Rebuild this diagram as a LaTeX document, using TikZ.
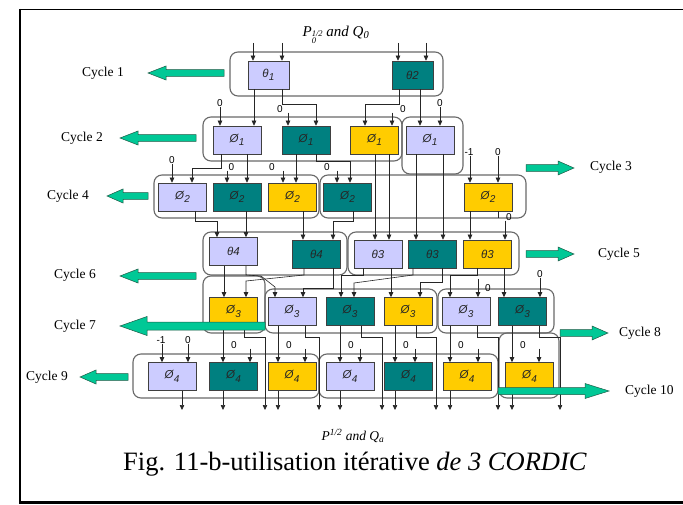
\documentclass[tikz,border=0pt]{standalone}
\usepackage{fontspec}
\setmainfont{Liberation Serif}
\setsansfont{Liberation Sans}
\usetikzlibrary{arrows.meta}

\definecolor{lav}{RGB}{204,204,255}
\definecolor{tealc}{RGB}{0,128,128}
\definecolor{yelc}{RGB}{255,204,0}
\definecolor{cycgreen}{RGB}{0,200,150}
\definecolor{cycedge}{RGB}{30,90,70}
\definecolor{grpline}{RGB}{105,105,105}

\newcommand\boxfont{\sffamily\itshape\fontsize{11.5}{11.5}\selectfont}
\newcommand\lblfont{\sffamily\fontsize{10}{10}\selectfont}
\newcommand\cycfont{\rmfamily\fontsize{13.5}{13.5}\selectfont}
\newcommand\phis[1]{Ø\kern0.3pt\raisebox{-0.55ex}{\fontsize{10}{10}\selectfont#1}}
\newcommand\thetas[1]{θ\kern0.3pt\raisebox{-0.55ex}{\fontsize{10}{10}\selectfont#1}}
% exponent 1/2 stacked over index 0
\newcommand\supsub[2]{\raisebox{-0.55ex}{\fontsize{8.5}{9}\selectfont
  \begin{tabular}{@{}l@{}}#1\\[-1.5pt]#2\end{tabular}}}

% straight vertical wire at abscissa #1 from the bottom of #2 to the top of #3
\newcommand\vwire[3]{\draw[arr] (#1,0 |- #2.south) -- (#1,0 |- #3.north);}
% block arrow: tail x, tip x, y, half shaft, head length, half head
\newcommand\cyclearrow[6]{%
  \pgfmathsetmacro\cah{ifthenelse(#1<#2,#2-#5,#2+#5)}%
  \filldraw[fill=cycgreen, draw=cycedge, line width=0.5pt, line join=miter]
    (#1,#3-#4) -- (\cah,#3-#4) -- (\cah,#3-#6) -- (#2,#3) -- (\cah,#3+#6)
    -- (\cah,#3+#4) -- (#1,#3+#4) -- cycle;}

\tikzset{
  x=1pt, y=-1pt,
  cell/.style={draw=black!75, line width=0.6pt, minimum width=48pt,
    minimum height=28pt, inner sep=0pt, font=\boxfont, text=black!85},
  lav/.style={cell, fill=lav},
  tea/.style={cell, fill=tealc},
  yel/.style={cell, fill=yelc},
  grp/.style={draw=grpline, line width=1.1pt, rounded corners=8pt},
  wire/.style={line width=0.6pt, draw=black!85},
  arr/.style={wire, -{Triangle[length=5pt,width=4.5pt]}},
  lbl/.style={font=\lblfont, inner sep=0pt},
  cyc/.style={font=\cycfont, inner sep=0pt, anchor=west},
}

\begin{document}
\begin{tikzpicture}
\useasboundingbox (0,0) rectangle (683,505);
\fill[white] (0,0) rectangle (683,505);

% frame
\draw[line width=1pt] (19,9.5) -- (683,9.5);
\draw[line width=2.5pt, line join=miter] (20,9) -- (20,502.5) -- (683,502.5);

% grouping outlines
\draw[grp] (230,52) rectangle (443,96);
\draw[grp] (203,117) rectangle (402,161);
\draw[grp] (402,117) rectangle (463,174);
\draw[grp] (154,175) rectangle (319,218);
\draw[grp] (320,175) rectangle (526,218);
\draw[grp] (203,232) rectangle (347,275);
\draw[grp] (348,232) rectangle (519,275);
\draw[grp] (203,276) rectangle (265,333);
\draw[grp] (265,289) rectangle (437,333);
\draw[grp] (438,289) rectangle (554,333);
\draw[grp] (133,354) rectangle (319,398);
\draw[grp] (319,354) rectangle (498,398);
\draw[grp] (499,333) rectangle (559,398);

% titles
\node[font=\rmfamily\itshape\fontsize{15}{15}\selectfont] (tin) at (336,36)
  {P\supsub{1/2}{0} and Q\textsubscript{0}};
\node[font=\rmfamily\itshape\fontsize{13.5}{13.5}\selectfont] (tout) at (353,436)
  {P\textsuperscript{1/2} and Q\textsubscript{a}};
\node[font=\rmfamily\fontsize{26.5}{26.5}\selectfont] (cap) at (355,464)
  {Fig. 11-b-utilisation itérative \textit{de 3 CORDIC}};

% row 1
\node[lav, minimum width=41pt] (t1) at (268.5,75) {\thetas{1}};
\node[tea, minimum width=41pt] (t2) at (412.5,75) {θ2};
% row 2
\node[lav] (p1a) at (237,140) {\phis{1}};
\node[tea] (p1b) at (306,140) {\phis{1}};
\node[yel] (p1c) at (374.5,140) {\phis{1}};
\node[lav] (p1d) at (430,140) {\phis{1}};
% row 3
\node[lav] (p2a) at (182.5,197) {\phis{2}};
\node[tea] (p2b) at (237,197) {\phis{2}};
\node[yel] (p2c) at (292.5,197) {\phis{2}};
\node[tea] (p2d) at (347.5,197) {\phis{2}};
\node[yel] (p2e) at (488,197) {\phis{2}};
% row 4
\node[lav] (t4a) at (233.5,251.5) {θ4};
\node[tea] (t4b) at (316.5,254) {θ4};
\node[lav] (t3a) at (378,254) {θ3};
\node[tea] (t3b) at (432.5,254) {θ3};
\node[yel] (t3c) at (487.5,254) {θ3};
% row 5
\node[yel] (p3a) at (233.5,311.5) {\phis{3}};
\node[lav] (p3b) at (292,311.5) {\phis{3}};
\node[tea] (p3c) at (350,311.5) {\phis{3}};
\node[yel] (p3d) at (408,311.5) {\phis{3}};
\node[lav] (p3e) at (466,311.5) {\phis{3}};
\node[tea] (p3f) at (522.5,311.5) {\phis{3}};
% row 6
\node[lav] (p4a) at (172,376.5) {\phis{4}};
\node[tea] (p4b) at (233.5,376.5) {\phis{4}};
\node[yel] (p4c) at (292,376.5) {\phis{4}};
\node[lav] (p4d) at (350,376.5) {\phis{4}};
\node[tea] (p4e) at (408.5,376.5) {\phis{4}};
\node[yel] (p4f) at (467,376.5) {\phis{4}};
\node[yel] (p4g) at (529.5,376.5) {\phis{4}};

% inputs of row 1
\coordinate (i1) at (253,43);
\coordinate (i2) at (282,43);
\coordinate (i3) at (398,43);
\coordinate (i4) at (426,43);
\draw[arr] (i1) -- (i1 |- t1.north);
\draw[arr] (i2) -- (i2 |- t1.north);
\draw[arr] (i3) -- (i3 |- t2.north);
\draw[arr] (i4) -- (i4 |- t2.north);

% row 1 -> row 2
\node[lbl] (z1) at (220,103) {0};
\draw[arr] (z1.south) -- (z1.south |- p1a.north);
\vwire{254}{t1}{p1a}
\node[lbl] (z2) at (280,109) {0};
\draw[arr] (288,0 |- z2.south) -- (288,0 |- p1b.north);
\draw[arr] (282,0 |- t1.south) |- (316,104) -- (316,0 |- p1b.north);
\draw[arr] (399,0 |- t2.south) |- (365,104) -- (365,0 |- p1c.north);
\node[lbl] (z3) at (403,109) {0};
\draw[arr] (392,0 |- z3.south) -- (392,0 |- p1c.north);
\vwire{420}{t2}{p1d}
\node[lbl] (z4) at (440,103) {0};
\draw[arr] (z4.south) -- (z4.south |- p1d.north);

% row 2 -> row 3
\node[lbl] (z5) at (172,160) {0};
\draw[arr] (z5.south) -- (z5.south |- p2a.north);
\draw[arr] (221,0 |- p1a.south) |- (192,168) -- (192,0 |- p2a.north);
\node[lbl] (z6) at (231.5,167) {0};
\draw[arr] (227,0 |- z6.south) -- (227,0 |- p2b.north);
\vwire{247}{p1a}{p2b}
\node[lbl] (z7) at (272,167) {0};
\draw[arr] (283,0 |- z7.south) -- (283,0 |- p2c.north);
\vwire{296}{p1b}{p2c}
\node[lbl] (z8) at (327,167) {0};
\draw[arr] (337,0 |- z8.south) -- (337,0 |- p2d.north);
\draw[arr] (316,0 |- p1b.south) |- (350,161) -- (350,0 |- p2d.north);
\node[lbl] (z9) at (469,152) {-1};
\draw[arr] (470,0 |- z9.south) -- (470,0 |- p2e.north);
\node[lbl] (z10) at (498,152) {0};
\draw[arr] (z10.south) -- (z10.south |- p2e.north);

% row 2 -> row 4
\vwire{375}{p1c}{t3a}
\vwire{389}{p1c}{t3a}
\vwire{416}{p1d}{t3b}
\vwire{443}{p1d}{t3b}

% row 3 -> row 4
\draw[arr] (195,0 |- p2a.south) |- (217,221) -- (217,0 |- t4a.north);
\vwire{246}{p2b}{t4a}
\vwire{303}{p2c}{t4b}
\draw[arr] (353,0 |- p2d.south) |- (333,221) -- (333,0 |- t4b.north);
\vwire{470}{p2e}{t3c}
\coordinate (c1) at (498,218);
\draw[wire] (498,0 |- p2e.south) -- (c1);
\node[lbl] (z11) at (509,217) {0};
\draw[arr] (505,0 |- z11.south) -- (505,0 |- t3c.north);

% row 4 -> row 5
\vwire{224}{t4a}{p3a}
\draw[arr] (304,0 |- t4b.south) -- (304,275) -- (246,281) -- (246,0 |- p3a.north);
\draw[arr] (246,0 |- t4a.south) -- (246,275) -- (261,276) -- (275,287) -- (275,0 |- p3b.north);
\draw[arr] (333,0 |- t4b.south) |- (303,288) -- (303,0 |- p3b.north);
\draw[arr] (363,0 |- t3a.south) |- (341,275) -- (341,0 |- p3c.north);
\draw[arr] (413,0 |- t3b.south) -- (413,275) -- (354,283) -- (354,0 |- p3c.north);
\vwire{391}{t3a}{p3d}
\draw[arr] (442,0 |- t3b.south) |- (420,282) -- (420,0 |- p3d.north);
\draw[arr] (477,0 |- t3c.south) |- (450,275) -- (450,0 |- p3e.north);
\coordinate (c2) at (478,279);
\node[lbl] (z12) at (488,288) {0};
\draw[arr] (c2) -- (c2 |- p3e.north);
\vwire{504}{t3c}{p3f}
\node[lbl] (z13) at (540,274) {0};
\draw[arr] (z13.south) -- (z13.south |- p3f.north);

% row 5 -> row 6
\node[lbl] (z14) at (161,340) {-1};
\draw[arr] (162,0 |- z14.south) -- (162,0 |- p4a.north);
\node[lbl] (z15) at (188,340) {0};
\draw[arr] (z15.south) -- (z15.south |- p4a.north);
\vwire{223}{p3a}{p4b}
\node[lbl] (z16) at (234,345) {0};
\draw[arr] (250,0 |- z16.south) -- (250,0 |- p4b.north);
\vwire{278}{p3b}{p4c}
\node[lbl] (z17) at (289,345) {0};
\draw[arr] (305,0 |- z17.south) -- (305,0 |- p4c.north);
\vwire{340}{p3c}{p4d}
\node[lbl] (z18) at (351,345) {0};
\draw[arr] (360,0 |- z18.south) -- (360,0 |- p4d.north);
\vwire{395}{p3d}{p4e}
\node[lbl] (z19) at (406,345) {0};
\draw[arr] (415,0 |- z19.south) -- (415,0 |- p4e.north);
\vwire{450}{p3e}{p4f}
\node[lbl] (z20) at (461,345) {0};
\draw[arr] (478,0 |- z20.south) -- (478,0 |- p4f.north);
\vwire{512}{p3f}{p4g}
\node[lbl] (z21) at (523,345) {0};
\draw[arr] (539,0 |- z21.south) -- (539,0 |- p4g.north);

% outputs
\coordinate (bot) at (0,410);
\draw[arr] (244,0 |- p3a.south) |- (265,337) -- (265,0 |- bot);
\draw[arr] (305,0 |- p3b.south) |- (319,337) -- (319,0 |- bot);
\draw[arr] (361,0 |- p3c.south) |- (382,337) -- (382,0 |- bot);
\draw[arr] (416,0 |- p3d.south) |- (436,337) -- (436,0 |- bot);
\draw[arr] (477,0 |- p3e.south) |- (498,337) -- (498,0 |- bot);
\draw[arr] (539,0 |- p3f.south) |- (560,337) -- (560,0 |- bot);
\draw[arr] (182,0 |- p4a.south) -- (182,0 |- bot);
\draw[arr] (223,0 |- p4b.south) -- (223,0 |- bot);
\draw[arr] (278,0 |- p4c.south) -- (278,0 |- bot);
\draw[arr] (340,0 |- p4d.south) -- (340,0 |- bot);
\draw[arr] (395,0 |- p4e.south) -- (395,0 |- bot);
\draw[arr] (450,0 |- p4f.south) -- (450,0 |- bot);
\draw[arr] (512,0 |- p4g.south) -- (512,0 |- bot);

% cycle labels
\node[cyc] (cy1) at (82,73) {Cycle 1};
\node[cyc] (cy2) at (61,138) {Cycle 2};
\node[cyc] (cy3) at (590,167) {Cycle 3};
\node[cyc] (cy4) at (47,196) {Cycle 4};
\node[cyc] (cy5) at (598,254) {Cycle 5};
\node[cyc] (cy6) at (54,275) {Cycle 6};
\node[cyc] (cy7) at (54,326) {Cycle 7};
\node[cyc] (cy8) at (619,333) {Cycle 8};
\node[cyc] (cy9) at (26,377) {Cycle 9};
\node[cyc] (cy10) at (625,391) {Cycle 10};

% cycle arrows
\cyclearrow{224}{148}{73}{3.3}{18}{7}
\cyclearrow{196}{120}{138}{3.3}{18}{7}
\cyclearrow{526}{574}{168}{3.3}{16}{7}
\cyclearrow{148}{107}{196}{3.3}{16}{7}
\cyclearrow{526}{574}{254}{3.3}{16}{7}
\cyclearrow{196}{120}{276}{3.3}{18}{7}
\cyclearrow{265}{120}{326}{4}{27}{9.5}
\cyclearrow{560}{608}{333}{3.3}{16}{7}
\cyclearrow{128}{80}{377}{3.3}{16}{7}
\cyclearrow{498}{609}{391}{3.5}{24}{7.5}
\end{tikzpicture}
\end{document}
